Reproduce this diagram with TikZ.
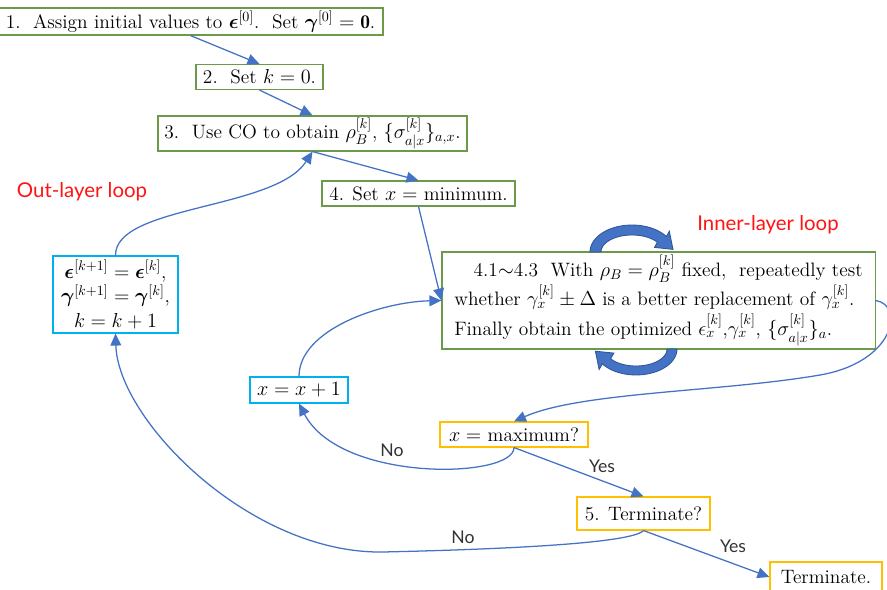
\documentclass[tikz,border=0pt]{standalone}
\usepackage{amsmath,amssymb}
\usepackage{bm}
\usepackage{fontspec}
\newfontfamily\notefont{Lato}
\usetikzlibrary{arrows.meta}
\definecolor{stepgreen}{RGB}{106,154,74}
\definecolor{updcyan}{RGB}{0,176,240}
\definecolor{testgold}{RGB}{255,192,0}
\definecolor{flowblue}{RGB}{68,114,196}
\definecolor{loopdark}{RGB}{47,85,151}
\definecolor{loopred}{RGB}{255,20,20}

\begin{document}
\begin{tikzpicture}[
  x=0.025cm,
  y=-0.025cm,
  box/.style={
    draw,
    line width=0.8pt,
    fill=white,
    inner sep=1pt,
    font=\fontsize{13.8}{16}\selectfont
  },
  stepbox/.style={box,draw=stepgreen},
  updbox/.style={box,draw=updcyan},
  testbox/.style={box,draw=testgold},
  flow/.style={draw=flowblue,line width=0.9pt,-{Triangle[length=3mm,width=2.7mm]}},
  loopnote/.style={text=loopred,font=\notefont\fontsize{14.5}{16}\selectfont},
  branch/.style={text=black!80,font=\notefont\fontsize{12.5}{14}\selectfont},
  turn/.style={draw=loopdark,line width=0.6pt,fill=flowblue}
]
  \path[use as bounding box,fill=white] (0,0) rectangle (887,590);

  \coordinate (wrap) at (820,375);
  \coordinate (sag)  at (383,552);

  \node[stepbox,minimum width=9.625cm,minimum height=0.675cm] (s1) at (190.5,21.5)
    {1.\ \ Assign initial values to $\bm{\epsilon}^{[0]}$.\ \ Set $\bm{\gamma}^{[0]}=\mathbf{0}$.};
  \node[stepbox,minimum width=3.175cm,minimum height=0.625cm] (s2) at (259.5,77)
    {2.\ \ Set $k=0$.};
  \node[stepbox,minimum width=7.725cm,minimum height=0.875cm] (s3) at (312.5,133.5)
    {3.\ \ Use CO to obtain $\rho_B^{[k]}$, $\{\sigma_{a|x}^{[k]}\}_{a,x}$.};
  \node[stepbox,minimum width=4.825cm,minimum height=0.625cm] (s4) at (418.5,193.5)
    {4. Set $x=$ minimum.};
  \node[stepbox,minimum width=10.825cm,minimum height=2.425cm,align=left,
        font=\fontsize{13.8}{21}\selectfont] (s41) at (658.5,300.5)
    {\hspace*{1em}4.1$\sim$4.3\ \ With $\rho_B=\rho_B^{[k]}$ fixed,\ \ repeatedly test\\
     whether $\gamma_x^{[k]}\pm\Delta$ is a better replacement of $\gamma_x^{[k]}$.\\
     Finally obtain the optimized $\epsilon_x^{[k]}$,$\gamma_x^{[k]}$, $\{\sigma_{a|x}^{[k]}\}_a$.};

  \node[updbox,minimum width=3.125cm,minimum height=1.925cm,align=center,
        font=\fontsize{13.8}{17.5}\selectfont] (upd) at (115.5,294.5)
    {$\bm{\epsilon}^{[k+1]}=\bm{\epsilon}^{[k]}$,\\
     $\bm{\gamma}^{[k+1]}=\bm{\gamma}^{[k]}$,\\
     $k=k+1$};
  \node[updbox,minimum width=2.45cm,minimum height=0.65cm] (incx) at (299,390) {$x=x+1$};

  \node[testbox,minimum width=3.7cm,minimum height=0.625cm] (xmax) at (514,434.5) {$x=$ maximum?};
  \node[testbox,minimum width=3.325cm,minimum height=0.825cm] (s5) at (643.5,513.5) {5. Terminate?};
  \node[testbox,minimum width=2.8cm,minimum height=0.75cm] (stop) at (826,577) {Terminate.};

  \node[loopnote] (outer) at (82,192) {Out-layer loop};
  \node[loopnote] (inner) at (768,225) {Inner-layer loop};
  \node[branch] (no1)  at (392,450) {No};
  \node[branch] (no2)  at (463,537) {No};
  \node[branch] (yes1) at (602,466) {Yes};
  \node[branch] (yes2) at (733,546) {Yes};

  \draw[flow] (s1.south) -- (s2.north);
  \draw[flow] (s2.south) -- (s3.north);
  \draw[flow] (s3.south) -- (s4.north);
  \draw[flow] (s4.south) -- (s41.west);
  \draw[flow] (incx.north) .. controls (299,330) and (380,302) .. (s41.west);
  \draw[flow] (s41.east) .. controls (905,305) and (895,362) .. (wrap)
                         .. controls (721,392) and (580,392) .. (xmax.north);
  \draw[flow] (xmax.south) .. controls (514,479) and (340,483) .. (incx.south);
  \draw[flow] (xmax.south) -- (s5.north);
  \draw[flow] (s5.south) -- (stop.west);
  \draw[flow] (s5.south) .. controls (630,545) and (470,550) .. (sag)
                         .. controls (250,554) and (118,420) .. (upd.south);
  \draw[flow] (upd.north) .. controls (115,205) and (275,210) .. (s3.south);

  % inner-layer turn arrows
  \filldraw[turn] plot[domain=180:35,samples=30,variable=\t] ({632+42*cos(\t)},{252-27*sin(\t)})
    -- (669.3,231.2) -- (673,249.4) -- (654.5,247.4)
    -- plot[domain=35:180,samples=30,variable=\t] ({632+31*cos(\t)},{252-17*sin(\t)}) -- cycle;
  \filldraw[turn] plot[domain=0:145,samples=30,variable=\t] ({636+41*cos(\t)},{349+26*sin(\t)})
    -- (599.1,369.5) -- (595.4,351.2) -- (613.9,353.1)
    -- plot[domain=145:0,samples=30,variable=\t] ({636+31*cos(\t)},{349+17*sin(\t)}) -- cycle;
\end{tikzpicture}
\end{document}
